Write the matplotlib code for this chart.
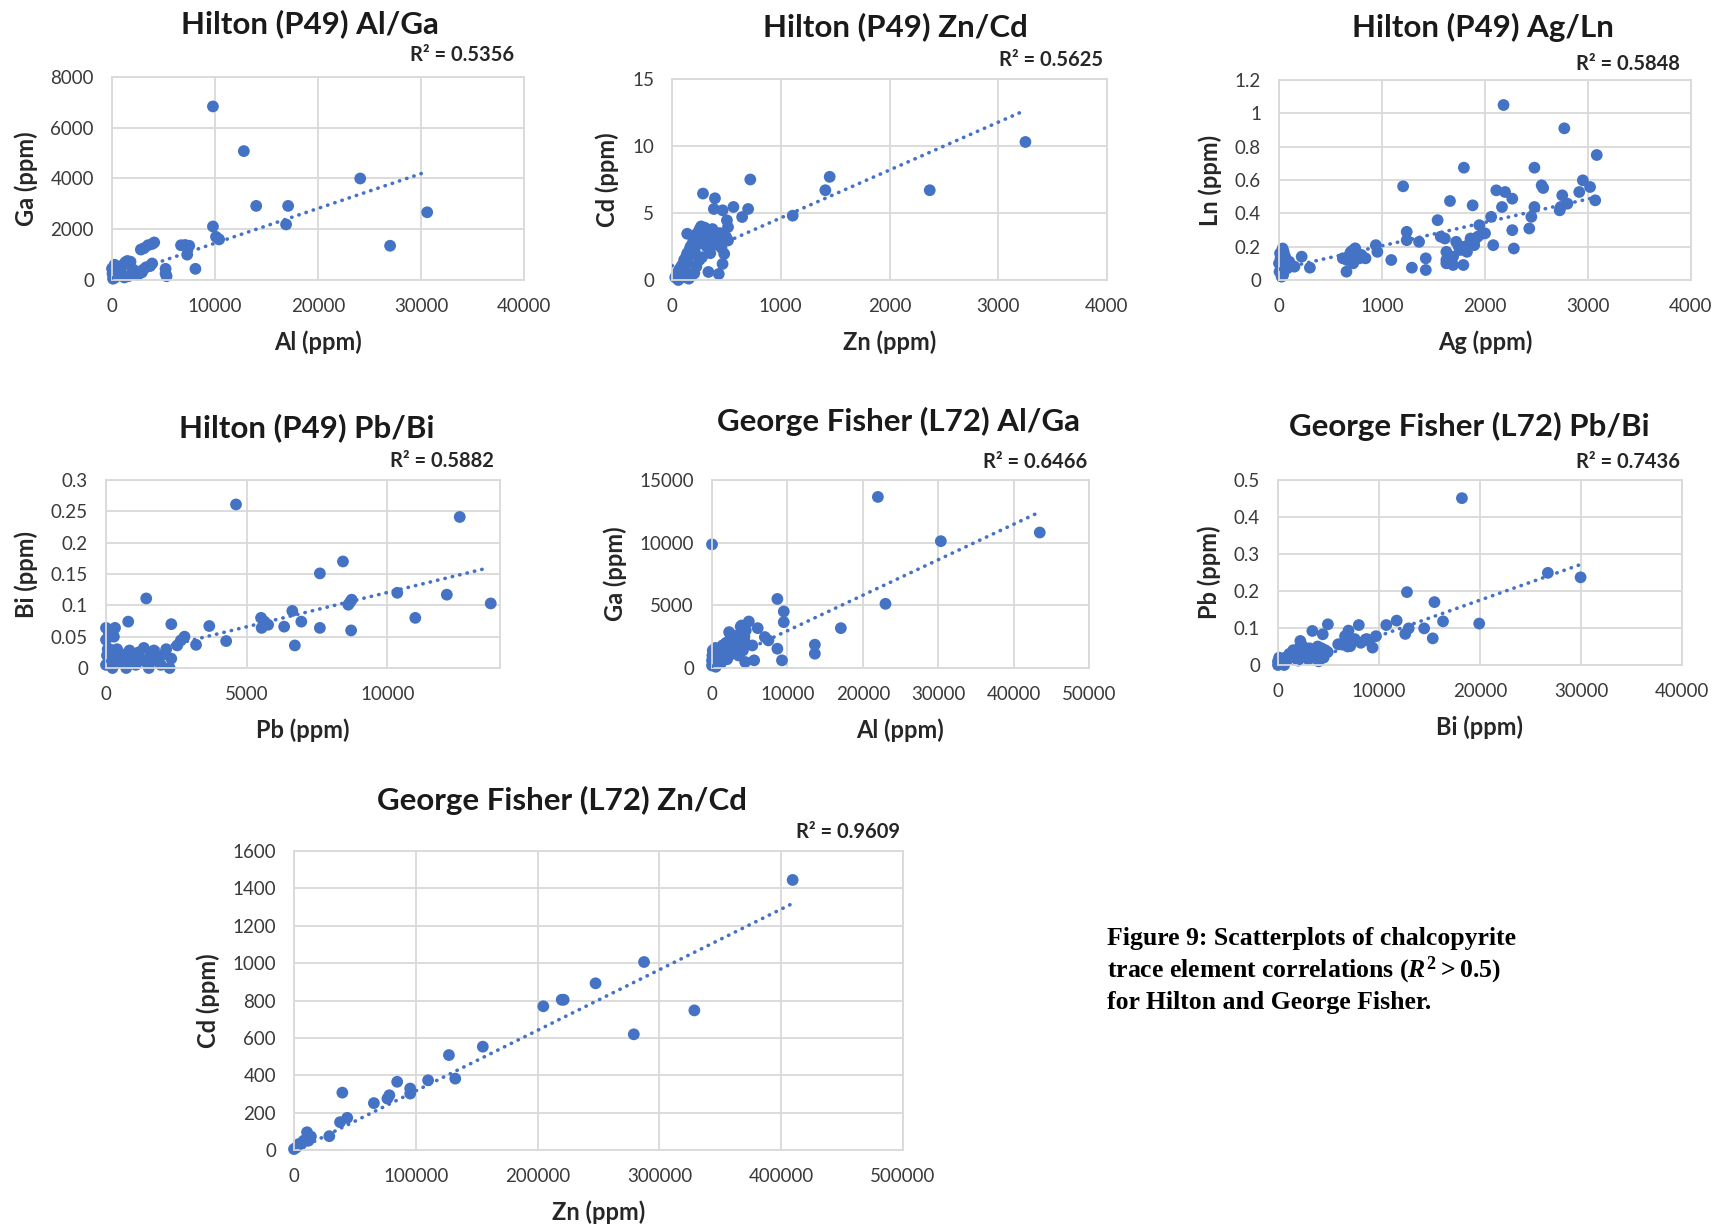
import matplotlib
matplotlib.use("Agg")
import matplotlib.pyplot as plt
from matplotlib.ticker import FuncFormatter

# ---- data ----
# Hilton (P49) Al/Ga
al_h = [9800, 12800, 24100, 14000, 17100, 16900, 30600, 27000, 9800, 10100,
        10400, 8100, 5200, 5200, 5300, 6700, 7100, 7500, 7300, 2800,
        3100, 3500, 3900, 4100, 3300, 3700, 3900, 1300, 1500, 1800,
        2100, 2500, 2900, 500, 700, 900, 1100, 200, 300, 100,
        400, 600, 0, 50, 150, 250, 800, 1200, 2000, 3000, 1600, 300]
ga_h = [6840, 5080, 4000, 2920, 2920, 2190, 2670, 1350, 2110, 1700,
        1600, 440, 440, 250, 150, 1370, 1380, 1350, 1000, 1200,
        1250, 1370, 1420, 1480, 500, 550, 650, 700, 750, 720,
        400, 200, 300, 300, 400, 500, 600, 200, 100, 50,
        150, 300, 450, 250, 350, 600, 250, 100, 350, 400, 150, 500]
trend_al_h = [0, 30500]
trend_ga_h = [80, 4260]

# Hilton (P49) Zn/Cd
zn_h = [3250, 2370, 1450, 1410, 1110, 720, 700, 645, 565, 505,
        515, 285, 395, 385, 465, 430, 335, 465, 480, 515, 140,
        30, 45, 62, 68, 85, 92, 104, 112, 118, 133,
        141, 148, 163, 171, 176, 192, 203, 208, 224, 233,
        238, 255, 262, 268, 284, 293, 302, 307, 318, 334,
        338, 352, 358, 372, 377, 405, 418, 438, 455, 478,
        498, 122, 155, 178, 58, 205, 224, 252, 276]
cd_h = [10.3, 6.7, 7.7, 6.7, 4.8, 7.5, 5.3, 4.7, 5.45, 4.45,
        3.95, 6.45, 6.1, 5.3, 5.2, 0.45, 0.6, 1.2, 1.95, 2.95, 3.45,
        0.2, 0.5, 0.3, 0.8, 1.0, 0.6, 1.2, 1.5, 0.9, 1.8,
        2.0, 1.3, 2.3, 2.5, 1.9, 2.8, 3.0, 2.2, 3.3, 3.5,
        2.7, 3.8, 3.2, 4.0, 2.9, 3.6, 3.9, 3.1, 2.5, 3.7,
        3.4, 2.0, 3.0, 3.8, 2.6, 3.3, 2.9, 3.5, 2.4, 3.0,
        3.2, 0.2, 0.1, 0.3, 0.0, 0.5, 1.0, 1.5, 1.7]
trend_zn_h = [0, 3230]
trend_cd_h = [1.06, 12.6]

# Hilton (P49) Ag/Ln
ag_h = [2180, 2770, 3085, 1795, 2480, 1205, 2950, 2550, 2565, 2110,
        2195, 2265, 2915, 3020, 2750, 3070, 1660, 1880, 2165, 2480,
        2735, 2800, 2725, 2060, 2450, 1540, 2430, 2265, 1240, 1240,
        1360, 1945, 1980, 2080, 2280, 1425, 1290, 1425, 1090, 940,
        955, 840, 720, 690, 655, 620, 220, 300, 150, 35,
        1610, 1625, 1625, 1690, 1790, 1720, 1790, 1860, 1825, 1895,
        1930, 1690, 2000, 1625, 1745, 1570, 1850, 1760, 1900,
        0, 10, 20, 30, 40, 50, 60, 80, 100, 5, 25, 45, 70, 15,
        680, 700, 740, 760, 660, 720, 780, 800]
ln_h = [1.05, 0.91, 0.75, 0.674, 0.674, 0.562, 0.598, 0.568, 0.552, 0.538,
        0.528, 0.488, 0.528, 0.558, 0.508, 0.478, 0.474, 0.448, 0.438, 0.438,
        0.438, 0.458, 0.418, 0.379, 0.379, 0.359, 0.309, 0.299, 0.289, 0.239,
        0.229, 0.329, 0.279, 0.209, 0.189, 0.13, 0.074, 0.06, 0.12, 0.209,
        0.169, 0.13, 0.179, 0.159, 0.05, 0.13, 0.14, 0.074, 0.08, 0.189,
        0.249, 0.169, 0.1, 0.09, 0.09, 0.229, 0.199, 0.249, 0.169, 0.209,
        0.26, 0.14, 0.28, 0.12, 0.2, 0.26, 0.22, 0.18, 0.24,
        0.1, 0.16, 0.06, 0.12, 0.03, 0.08, 0.14, 0.07, 0.11, 0.05, 0.02, 0.17, 0.09, 0.13,
        0.14, 0.17, 0.19, 0.16, 0.12, 0.10, 0.13, 0.15]
trend_ag_h = [0, 3100]
trend_ln_h = [0.065, 0.50]

# Hilton (P49) Pb/Bi
pb_h = [4620, 12570, 8420, 7600, 1430, 8670, 8730, 8610, 10350, 12110,
        13670, 10990, 6620, 6940, 5510, 5530, 5760, 5630, 6330, 7600,
        8710, 6710, 4270, 3670, 3200, 2790, 2660, 2530, 2320, 790,
        0, 320, 250, 0, 60, 100, 200, 280,
        0, 35, 95, 128, 176, 231, 268, 352, 395, 482,
        548, 661, 718, 835, 892, 990, 1060, 1163, 1228, 1345,
        1410, 1522, 1588, 1702, 1771, 1885, 1948, 2063, 2140, 2262, 2318]
bi_h = [0.261, 0.241, 0.170, 0.151, 0.111, 0.105, 0.109, 0.101, 0.120, 0.117,
        0.103, 0.080, 0.091, 0.074, 0.080, 0.064, 0.069, 0.074, 0.066, 0.064,
        0.060, 0.036, 0.043, 0.067, 0.037, 0.050, 0.044, 0.036, 0.070, 0.074,
        0.064, 0.064, 0.052, 0.045, 0.030, 0.055, 0.060, 0.050,
        0.005, 0.02, 0.01, 0.03, 0.015, 0.0, 0.025, 0.012, 0.03, 0.008,
        0.022, 0.018, 0.0, 0.028, 0.01, 0.02, 0.005, 0.025, 0.015, 0.032,
        0.01, 0.0, 0.02, 0.028, 0.012, 0.018, 0.005, 0.022, 0.03, 0.0, 0.015]
trend_pb_h = [0, 13600]
trend_bi_h = [0.011, 0.160]

# George Fisher (L72) Al/Ga
al_g = [22000, 30350, 43470, 0, 23010, 8670, 9520, 9520, 17090, 13640,
        13640, 9280, 8670, 6060, 4880, 3930, 7010, 7480, 5350, 5590, 4400, 2750, 2270,
        0, 0, 50, 100, 150, 210, 300, 350, 450, 500,
        610, 720, 800, 950, 1100, 1200, 1400, 1520, 1700, 1850,
        2010, 2200, 2400, 2520, 2700, 2900, 3100, 3300, 3520, 3700,
        3900, 4100, 4300, 4480, 3800, 4320]
ga_g = [13650, 10120, 10810, 9860, 5120, 5510, 4510, 3660, 3180, 1860,
        1140, 610, 1540, 3180, 3710, 3390, 2470, 2200, 1800, 610, 480, 2600, 2860,
        200, 600, 1000, 1400, 300, 800, 1200, 500, 1600, 100,
        900, 1300, 600, 1100, 1500, 400, 1800, 900, 1300, 2000,
        700, 1600, 2300, 1100, 1900, 2500, 1500, 2200, 1000, 2700,
        1800, 1400, 2500, 3000, 3300, 2100]
trend_al_g = [0, 43500]
trend_ga_g = [140, 12460]

# George Fisher (L72) Pb/Bi
bi_g = [18210, 26720, 29960, 12770, 15490, 16340, 19920, 11750, 10720, 12600,
        12940, 14470, 15320, 8000, 9700, 9360, 6980, 8680, 5960, 6640,
        7150, 4940, 3400, 4430, 2210, 6200, 6600, 7250, 7600, 8200, 8800, 9050, 6900,
        0, 0, 110, 190, 360, 490, 720, 880, 1120, 1290,
        1510, 1680, 1920, 2080, 2330, 2480, 2710, 2890, 3130, 3270,
        3520, 3680, 3930, 4090, 4310, 4520, 4680, 4920, 4020, 3010, 1990, 610]
pb_g = [0.451, 0.249, 0.237, 0.197, 0.170, 0.118, 0.112, 0.120, 0.108, 0.084,
        0.099, 0.099, 0.072, 0.108, 0.078, 0.047, 0.093, 0.069, 0.056, 0.078,
        0.051, 0.110, 0.092, 0.083, 0.065, 0.056, 0.060, 0.065, 0.070, 0.060, 0.070, 0.065, 0.050,
        0.0, 0.01, 0.02, 0.005, 0.015, 0.01, 0.02, 0.012, 0.03, 0.025,
        0.04, 0.02, 0.035, 0.045, 0.03, 0.05, 0.038, 0.028, 0.045, 0.035,
        0.04, 0.025, 0.05, 0.03, 0.045, 0.02, 0.04, 0.035, 0.01, 0.015, 0.012, 0.0]
trend_bi_g = [0, 30000]
trend_pb_g = [-0.018, 0.272]

# George Fisher (L72) Zn/Cd
zn_g = [409400, 287400, 247600, 221400, 219800, 204700, 328700, 279000, 155000, 127200,
        132400, 110100, 84700, 95400, 95400, 78300, 76700, 65600, 39700, 37800,
        43700, 29000, 10700, 13900, 11900, 4000, 2000, 0, 8000, 6000]
cd_g = [1445, 1006, 892, 804, 804, 769, 747, 619, 553, 508,
        382, 373, 365, 329, 302, 293, 275, 251, 307, 149,
        172, 74, 95, 72, 50, 32, 14, 5, 50, 32]
trend_zn_g = [0, 408000]
trend_cd_g = [-8, 1315]

BLUE = "#4472C4"
GRID = "#D9D9D9"
W, H = 1722, 1227

plt.rcParams["font.family"] = ["Lato", "DejaVu Sans"]
plt.rcParams["mathtext.fontset"] = "custom"
plt.rcParams["mathtext.rm"] = "Liberation Serif:bold"
plt.rcParams["mathtext.it"] = "Liberation Serif:italic:bold"
plt.rcParams["mathtext.bf"] = "Liberation Serif:bold"

fig = plt.figure(figsize=(W / 100, H / 100), dpi=100)


def fx(px):
    return px / W


def fy(py):
    return 1 - py / H


def fmt(v, pos):
    return f"{v:g}"


def panel(box, x, y, tx, ty, xlim, xticks, ylim, yticks, xlabel, ylabel,
          title, title_xy, r2, r2_xy):
    l, t, r, b = box
    ax = fig.add_axes([fx(l), fy(b), (r - l) / W, (b - t) / H])
    ax.scatter(x, y, s=72, color=BLUE, edgecolors="none", zorder=2, clip_on=False)
    ax.plot(tx, ty, color=BLUE, lw=2.6, linestyle=(0, (0.1, 2.0)),
            dash_capstyle="round", zorder=3)
    ax.set_xlim(*xlim)
    ax.set_ylim(*ylim)
    ax.set_xticks(xticks)
    ax.set_yticks(yticks)
    ax.xaxis.set_major_formatter(FuncFormatter(fmt))
    ax.yaxis.set_major_formatter(FuncFormatter(fmt))
    ax.grid(True, color=GRID, lw=1.3, zorder=0)
    ax.set_axisbelow(True)
    for s in ax.spines.values():
        s.set_color(GRID)
        s.set_linewidth(1.3)
    ax.tick_params(length=0, pad=13, labelsize=13.5, labelcolor="#3a3a3a")
    ax.set_xlabel(xlabel, fontsize=17, fontweight="bold", color="#262626", labelpad=11)
    ax.set_ylabel(ylabel, fontsize=17, fontweight="bold", color="#262626", labelpad=9)
    fig.text(fx(title_xy[0]), fy(title_xy[1]), title, fontsize=22.5, fontweight="bold",
             ha="center", va="center", color="#1a1a1a")
    fig.text(fx(r2_xy[0]), fy(r2_xy[1]), "R² = " + r2, fontsize=14.5, fontweight="bold",
             ha="right", va="center", color="#262626")
    return ax


panel((112, 77, 524, 280), al_h, ga_h, trend_al_h, trend_ga_h,
      (0, 40000), range(0, 40001, 10000), (0, 8000), range(0, 8001, 2000),
      "Al (ppm)", "Ga (ppm)", "Hilton (P49) Al/Ga", (310, 24), "0.5356", (514, 55))

panel((672, 79, 1107, 280), zn_h, cd_h, trend_zn_h, trend_cd_h,
      (0, 4000), range(0, 4001, 1000), (0, 15), range(0, 16, 5),
      "Zn (ppm)", "Cd (ppm)", "Hilton (P49) Zn/Cd", (895, 27), "0.5625", (1103, 60))

panel((1279, 80, 1691, 280), ag_h, ln_h, trend_ag_h, trend_ln_h,
      (0, 4000), range(0, 4001, 1000), (0, 1.2), [0, 0.2, 0.4, 0.6, 0.8, 1.0, 1.2],
      "Ag (ppm)", "Ln (ppm)", "Hilton (P49) Ag/Ln", (1483, 27), "0.5848", (1680, 64))

panel((106, 480, 500, 668), pb_h, bi_h, trend_pb_h, trend_bi_h,
      (0, 14000), [0, 5000, 10000], (0, 0.3), [0, 0.05, 0.1, 0.15, 0.2, 0.25, 0.3],
      "Pb (ppm)", "Bi (ppm)", "Hilton (P49) Pb/Bi", (307, 428), "0.5882", (494, 461))

panel((712, 480, 1089, 668), al_g, ga_g, trend_al_g, trend_ga_g,
      (0, 50000), range(0, 50001, 10000), (0, 15000), range(0, 15001, 5000),
      "Al (ppm)", "Ga (ppm)", "George Fisher (L72) Al/Ga", (898, 421), "0.6466", (1087, 462))

panel((1278, 480, 1682, 665), bi_g, pb_g, trend_bi_g, trend_pb_g,
      (0, 40000), range(0, 40001, 10000), (0, 0.5), [0, 0.1, 0.2, 0.3, 0.4, 0.5],
      "Bi (ppm)", "Pb (ppm)", "George Fisher (L72) Pb/Bi", (1469, 426), "0.7436", (1680, 462))

panel((294, 851, 903, 1150), zn_g, cd_g, trend_zn_g, trend_cd_g,
      (0, 500000), range(0, 500001, 100000), (0, 1600), range(0, 1601, 200),
      "Zn (ppm)", "Cd (ppm)", "George Fisher (L72) Zn/Cd", (562, 800), "0.9609", (900, 832))

caption = ["Figure 9: Scatterplots of chalcopyrite",
           r"trace element correlations $(R^2 > 0.5)$",
           "for Hilton and George Fisher."]
for i, line in enumerate(caption):
    fig.text(fx(1107), fy(939 + i * 31.5), line, fontsize=18.5, fontweight="bold",
             family="Liberation Serif", ha="left", va="center", color="black")

fig.savefig("out.png", dpi=100)
